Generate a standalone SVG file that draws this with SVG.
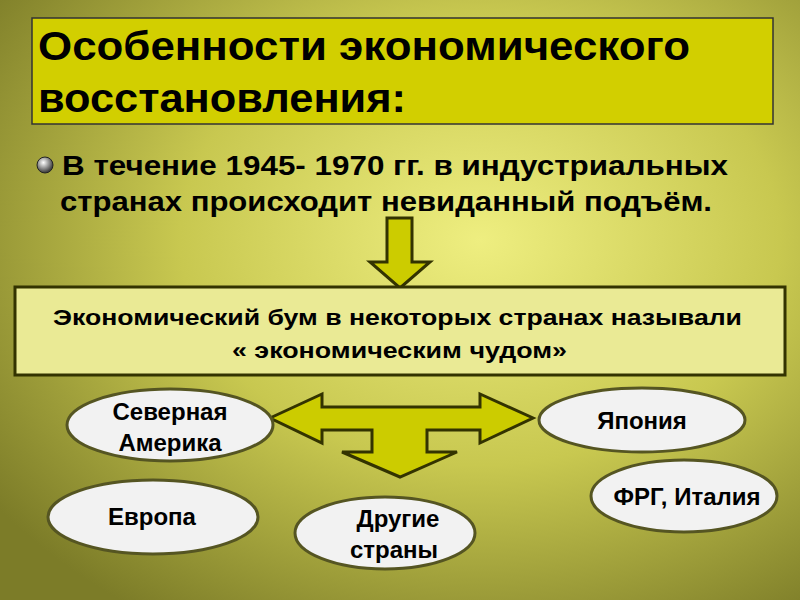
<svg xmlns="http://www.w3.org/2000/svg" width="800" height="600" viewBox="0 0 800 600">
<defs>
<radialGradient id="bg" cx="0.6" cy="0.4" r="0.75">
<stop offset="0" stop-color="#eeee80"/>
<stop offset="0.5" stop-color="#c8c850"/>
<stop offset="1" stop-color="#7c7c28"/>
</radialGradient>
<radialGradient id="ball" cx="0.4" cy="0.35" r="0.6">
<stop offset="0" stop-color="#ffffff"/>
<stop offset="1" stop-color="#444444"/>
</radialGradient>
<style>
.t{font-family:"Liberation Sans",Arial,sans-serif;font-weight:bold;fill:#000}
.ell{fill:#f2f2f2;stroke:#555522;stroke-width:3}
.arr{fill:#cccc00;stroke:#333300;stroke-width:3;stroke-linejoin:miter}
</style>
</defs>
<rect width="800" height="600" fill="url(#bg)"/>
<g id="title">
<rect x="32" y="18" width="741" height="106" fill="#d2cf00" stroke="#333" stroke-width="1.5"/>
<text class="t" x="38" y="60" font-size="40" textLength="652" lengthAdjust="spacingAndGlyphs">Особенности экономического</text>
<text class="t" x="38" y="112" font-size="40" textLength="368" lengthAdjust="spacingAndGlyphs">восстановления:</text>
</g>
<g id="bullet">
<circle cx="45" cy="165" r="8" fill="url(#ball)" stroke="#222" stroke-width="1"/>
<text class="t" x="62" y="175" font-size="27" textLength="666" lengthAdjust="spacingAndGlyphs">В течение 1945- 1970 гг. в индустриальных</text>
<text class="t" x="60" y="211" font-size="27" textLength="652" lengthAdjust="spacingAndGlyphs">странах происходит невиданный подъём.</text>
</g>
<g id="connectors">
<path class="arr" d="M387,218 H412 V262 H430 L400,288 L370,262 H387 Z"/>
<path class="arr" d="M270,418 L322,394 V407 H480 V394 L533,418 L480,443 V430 H427 V452 H457 L400,477 L342,452 H372 V430 H322 V443 Z"/>
</g>
<g id="boom">
<rect x="15" y="287" width="770" height="88" fill="#eaea95" stroke="#333300" stroke-width="3"/>
<text class="t" x="53" y="325" font-size="22" textLength="689" lengthAdjust="spacingAndGlyphs">Экономический бум в некоторых странах называли</text>
<text class="t" x="232" y="358" font-size="22" textLength="335" lengthAdjust="spacingAndGlyphs">« экономическим чудом»</text>
</g>
<g id="na">
<ellipse class="ell" cx="170" cy="425" rx="103" ry="36"/>
<text class="t" x="170" y="420" font-size="24" text-anchor="middle">Северная</text>
<text class="t" x="170" y="451" font-size="24" text-anchor="middle">Америка</text>
</g>
<g id="japan">
<ellipse class="ell" cx="642" cy="420" rx="103" ry="32"/>
<text class="t" x="642" y="429" font-size="24" text-anchor="middle">Япония</text>
</g>
<g id="europe">
<ellipse class="ell" cx="153" cy="517" rx="105" ry="37"/>
<text class="t" x="152" y="525" font-size="24" text-anchor="middle">Европа</text>
</g>
<g id="frg">
<ellipse class="ell" cx="684" cy="496" rx="93" ry="36"/>
<text class="t" x="687" y="505" font-size="24" text-anchor="middle">ФРГ, Италия</text>
</g>
<g id="other">
<ellipse class="ell" cx="385" cy="533" rx="90" ry="36"/>
<text class="t" x="398" y="527" font-size="24" text-anchor="middle">Другие</text>
<text class="t" x="394" y="558" font-size="24" text-anchor="middle">страны</text>
</g>
</svg>
